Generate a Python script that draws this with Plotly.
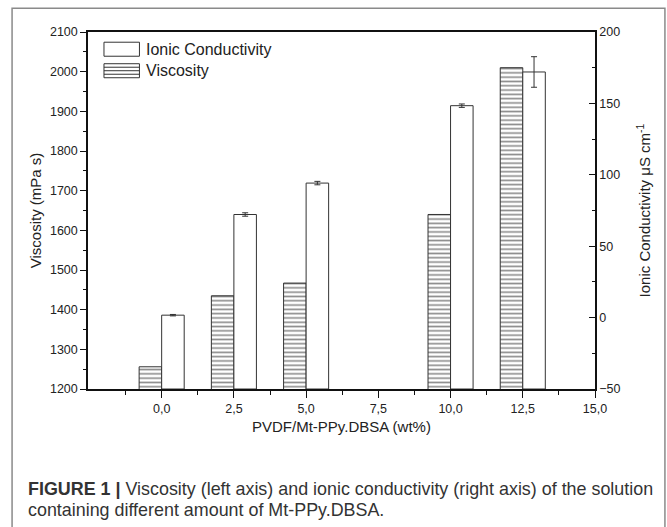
import plotly.graph_objects as go

# Data
loading = [0, 2.5, 5, 10, 12.5]
viscosity = [1256, 1435, 1467, 1640, 2010]
conductivity = [1.7, 72.2, 94.2, 148.4, 172.0]
conductivity_err = [0.5, 1.2, 1.2, 1.2, 10.7]

x_ticks = [0, 2.5, 5, 7.5, 10, 12.5, 15]
x_ticktext = ["0,0", "2,5", "5,0", "7,5", "10,0", "12,5", "15,0"]
x_minor = [-1.25, 1.25, 3.75, 6.25, 8.75, 11.25, 13.75]

series_names = ["Ionic Conductivity", "Viscosity"]

FONT = "Liberation Sans, Arial, sans-serif"
BAR_W = 0.78
Y2_MIN, Y2_MAX = -50, 200

fig = go.Figure()

# conductivity bars start at the bottom of the right axis
fig.add_trace(go.Bar(
    x=loading, y=[c - Y2_MIN for c in conductivity], base=Y2_MIN,
    name=series_names[0], yaxis="y2",
    width=BAR_W, offset=0, showlegend=False,
    marker=dict(color="white", line=dict(color="#333333", width=1)),
    error_y=dict(type="data", array=conductivity_err, visible=True,
                 color="#333333", thickness=1, width=3),
))
fig.add_trace(go.Bar(
    x=loading, y=viscosity, name=series_names[1], yaxis="y",
    width=BAR_W, offset=-BAR_W, showlegend=False,
    marker=dict(color="white", line=dict(color="#333333", width=1),
                pattern=dict(shape="-", size=4.3, solidity=0.38,
                             fgcolor="#1a1a1a", bgcolor="white")),
))

# plot area in pixels
L, R, T, B = 88, 595.5, 32.3, 389.0
W, H = 667, 527
pw, ph = R - L, B - T

def px(xp):
    return (xp - L) / pw

def py(yp):
    return (B - yp) / ph

fig.update_layout(
    width=W, height=H,
    margin=dict(l=L, r=W - R, t=T, b=H - B, pad=0),
    paper_bgcolor="white", plot_bgcolor="white",
    font=dict(family=FONT, size=12.5, color="#222222"),
    barmode="overlay",
    showlegend=False,
    xaxis=dict(range=[-2.55, 15], tickmode="array", tickvals=x_ticks, ticktext=x_ticktext,
               showline=True, linecolor="#111111", linewidth=1.5, mirror=True,
               ticks="outside", ticklen=7, tickwidth=1.2, tickcolor="#111111",
               minor=dict(ticks="outside", ticklen=4, tickmode="array", tickvals=x_minor,
                          tickcolor="#111111", tickwidth=1.2),
               showgrid=False, zeroline=False,
               tickfont=dict(size=12.5),
               title=dict(text="PVDF/Mt-PPy.DBSA (wt%)", font=dict(size=15), standoff=7)),
    yaxis=dict(range=[1200, 2100], dtick=100, tickformat="d",
               showline=True, linecolor="#111111", linewidth=1.5,
               ticks="outside", ticklen=6, tickwidth=1.2, tickcolor="#111111",
               minor=dict(ticks="outside", ticklen=3, dtick=50, tickcolor="#111111", tickwidth=1.2),
               showgrid=False, zeroline=False,
               tickfont=dict(size=12.5),
               title=dict(text="Viscosity (mPa s)", font=dict(size=15), standoff=5)),
    yaxis2=dict(range=[Y2_MIN, Y2_MAX], dtick=50, overlaying="y", side="right",
                showline=True, linecolor="#111111", linewidth=1.5,
                ticks="inside", ticklen=6, tickwidth=1.2, tickcolor="#111111",
                minor=dict(ticks="inside", ticklen=3, dtick=25, tickcolor="#111111", tickwidth=1.2),
                showgrid=False, zeroline=False,
                tickfont=dict(size=12.5),
                title=dict(text="Ionic Conductivity \u03bcS cm<sup>-1</sup>", font=dict(size=15), standoff=20)),
)

# legend (drawn manually to match the wide swatches)
sw_x0, sw_x1 = 104, 139.5
rows = [(42.5, 56.5), (64, 78)]
for i, (y0, y1) in enumerate(rows):
    fig.add_shape(type="rect", xref="paper", yref="paper",
                  x0=px(sw_x0), x1=px(sw_x1), y0=py(y1), y1=py(y0),
                  line=dict(color="#333333", width=1), fillcolor="white")
    if series_names[i] == "Viscosity":
        k = 1
        while y0 + k * 3.5 < y1 - 0.5:
            yy = y0 + k * 3.5
            fig.add_shape(type="line", xref="paper", yref="paper",
                          x0=px(sw_x0), x1=px(sw_x1), y0=py(yy), y1=py(yy),
                          line=dict(color="#333333", width=1))
            k += 1
    fig.add_annotation(xref="paper", yref="paper", x=px(144), y=py((y0 + y1) / 2),
                       xanchor="left", yanchor="middle", showarrow=False,
                       text=series_names[i], font=dict(size=16, family=FONT, color="#222222"))

# outer frame
fig.add_shape(type="rect", xref="paper", yref="paper",
              x0=px(12), x1=px(665.5), y0=py(540), y1=py(8.5),
              line=dict(color="#8a8a8a", width=1.5), fillcolor="rgba(0,0,0,0)", layer="below")

# caption
fig.add_annotation(xref="paper", yref="paper", x=px(26), y=py(489),
                   xanchor="left", yanchor="middle", showarrow=False, align="left",
                   text="<b>FIGURE 1 |</b> Viscosity (left axis) and ionic conductivity (right axis) of the solution",
                   font=dict(size=17.9, family=FONT, color="#333333"))
fig.add_annotation(xref="paper", yref="paper", x=px(26), y=py(510),
                   xanchor="left", yanchor="middle", showarrow=False, align="left",
                   text="containing different amount of Mt-PPy.DBSA.",
                   font=dict(size=17.9, family=FONT, color="#333333"))

fig.write_html("out.html")
